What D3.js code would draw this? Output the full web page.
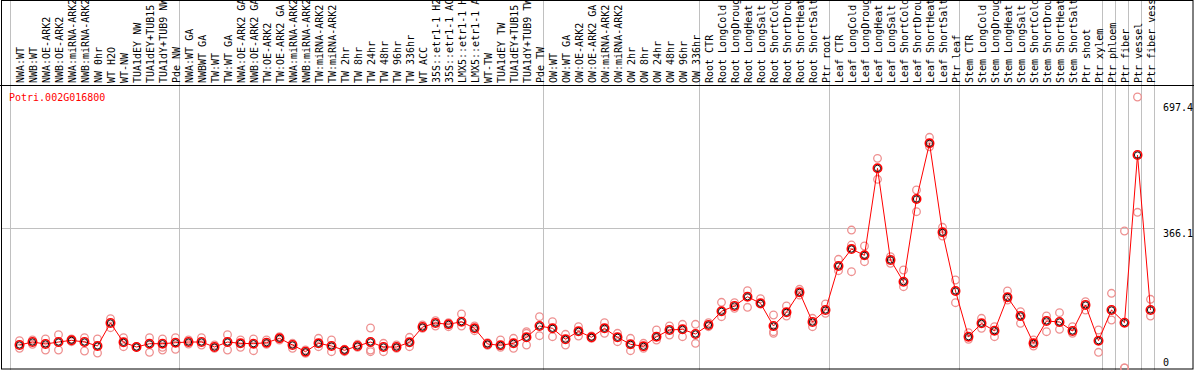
<!DOCTYPE html>
<html>
<head>
<meta charset="utf-8">
<script src="https://cdn.jsdelivr.net/npm/d3@7"></script>
<style>
  body { margin: 0; background: #fff; }
  text { font-family: "DejaVu Sans Mono", monospace; font-size: 10px; }
</style>
</head>
<body>
<div id="svganchor"></div>
<script>
let width = 1194;
let height = 370;
let headerHeight = 85;

// sample labels, one per column
let categories = [
  "NWA:WT","NWB:WT","NWA:OE-ARK2","NWB:OE-ARK2","NWA:miRNA-ARK2","NWB:miRNA-ARK2","NW 0hr","WT H2O","WT-NW",
  "TUA1dEY NW","TUA1dEY+TUB15 NW","TUA1dY+TUB9 NW","Pde NW",
  "NWA:WT GA","NWBWT GA","TW:WT","TW:WT GA","NWA:OE-ARK2 GA","NWB:OE-ARK2 GA","TW:OE-ARK2","TW:OE-ARK2 GA",
  "NWA:miRNA-ARK2 GA","NWB:miRNA-ARK2 GA","TW:miRNA-ARK2","TW:miRNA-ARK2 GA","TW 2hr","TW 8hr","TW 24hr","TW 48hr",
  "TW 96hr","TW 336hr","WT ACC","35S::etr1-1 H2O","35S::etr1-1 ACC","LMX5::etr1-1 H2O","LMX5::etr1-1 ACC","WT-TW",
  "TUA1dEY TW","TUA1dEY+TUB15 TW","TUA1dY+TUB9 TW","Pde TW",
  "OW:WT","OW:WT GA","OW:OE-ARK2","OW:OE-ARK2 GA","OW:miRNA-ARK2","OW:miRNA-ARK2 GA","OW 2hr","OW 8hr","OW 24hr",
  "OW 48hr","OW 96hr","OW 336hr",
  "Root CTR","Root LongCold","Root LongDrought","Root LongHeat","Root LongSalt","Root ShortCold","Root ShortDrought",
  "Root ShortHeat","Root ShortSalt","Ptr root",
  "Leaf CTR","Leaf LongCold","Leaf LongDrought","Leaf LongHeat","Leaf LongSalt","Leaf ShortCold","Leaf ShortDrought",
  "Leaf ShortHeat","Leaf ShortSalt","Ptr leaf",
  "Stem CTR","Stem LongCold","Stem LongDrought","Stem LongHeat","Stem LongSalt","Stem ShortCold","Stem ShortDrought",
  "Stem ShortHeat","Stem ShortSalt","Ptr shoot","Ptr xylem",
  "Ptr phloem","Ptr fiber","Ptr vessel","Ptr fiber vessel"
];

// index of the first column of every group (last entry = end)
let groupStarts = [0, 13, 41, 53, 63, 73, 84, 85, 86, 87, 88];

// mean expression per sample
let means = [
  60.3, 68.1, 62.9, 68.1, 72.6, 68.1, 57.7, 117.9, 67.3, 55.0, 63.7, 63.7, 66.3,
  68.1, 68.1, 55.0, 68.1, 64.7, 63.7, 66.3, 77.8, 60.3, 42.7, 64.7, 57.7, 46.4, 57.7, 68.1, 55.0,
  55.0, 67.3, 107.4, 117.9, 114.5, 121.3, 104.0, 62.9, 59.5, 64.7, 80.5, 110.1,
  104.0, 75.2, 96.2, 80.5, 104.0, 80.5, 62.1, 56.9, 82.0, 99.6, 101.4, 89.1,
  112.7, 148.6, 162.5, 186.8, 169.5, 110.1, 146.0, 198.4, 120.5, 152.0,
  267.3, 311.8, 295.3, 523.3, 283.0, 226.1, 442.9, 588.8, 355.6, 201.8,
  82.0, 117.1, 97.7, 185.3, 136.3, 64.7, 123.2, 120.5, 97.0, 165.1, 71.5,
  152.0, 118.7, 558.2, 152.0
];

// replicate values per sample
let reps = [
  [71.5, 51.6], [73.4, 62.1], [76.0, 47.2], [87.3, 47.2], [76.0, 68.9], [79.4, 44.5], [76.0, 39.3],
  [129.2, 105.6], [79.4, 55.8], [55.0, 55.0], [79.4, 41.1], [76.0, 54.2, 47.2], [79.4, 49.0],
  [73.4, 62.9], [79.4, 60.3], [60.3, 51.6], [87.3, 47.2], [73.4, 54.2], [76.0, 45.3], [73.4, 62.1],
  [82.0, 73.4], [64.7, 51.6], [47.2, 38.5], [77.8, 55.8], [73.4, 42.7], [49.0, 42.7], [62.1, 54.2],
  [104.8, 47.2, 42.7], [64.7, 42.7], [60.3, 51.6], [80.5, 55.8], [112.7, 104.0], [124.0, 110.1],
  [118.7, 108.2], [141.5, 110.1], [110.1, 97.7], [66.3, 59.5], [73.4, 54.2], [77.8, 51.6],
  [95.1, 90.9, 60.3], [134.4, 84.6],
  [121.3, 82.0], [88.3, 60.3], [108.2, 83.9], [83.9, 77.8], [118.7, 90.9], [90.9, 68.9], [77.8, 45.3],
  [64.7, 51.6], [99.6, 73.4], [110.1, 86.5], [114.5, 82.0], [114.5, 64.7],
  [118.7, 108.2], [172.2, 134.4], [171.1, 156.4], [202.6, 159.1], [181.6, 167.7], [138.9, 95.1, 90.9],
  [162.5, 136.3], [206.2, 191.3], [130.2, 108.2], [167.7, 143.3],
  [284.9, 255.0], [361.6, 322.3, 252.4], [319.7, 278.6], [549.5, 494.5], [291.7, 274.4], [256.8, 213.1],
  [466.5, 409.6], [604.6, 579.9], [368.7, 345.9], [230.6, 171.1],
  [92.5, 75.2], [130.2, 104.0], [108.2, 82.0], [201.8, 178.2], [147.5, 117.1], [73.4, 57.7],
  [136.3, 95.1], [144.9, 101.4], [108.2, 90.9], [173.7, 152.0], [99.6, 41.1],
  [195.8, 125.8], [359.0, 0, 0], [710.2, 408.0], [180.0, 136.3]
];

let yTicks = [0, 366.1, 697.4];
let geneName = "Potri.002G016800";

let svg = d3.select("#svganchor")
    .append("svg")
    .attr("width", width)
    .attr("height", height);

// band scale for columns, points sit a bit right of the band start
let xScale = d3.scaleBand()
    .domain(d3.range(categories.length))
    .range([10.5, 10.5 + 13 * categories.length])
    .paddingInner(0);
let pointOffset = 9;
let px = i => xScale(i) + pointOffset;

let yScale = d3.scaleLinear()
    .domain([0, 697.4])
    .range([368, 101.9]);

// horizontal grid at the middle tick
svg.append("line")
    .attr("x1", 2).attr("x2", xScale.range()[1])
    .attr("y1", Math.round(yScale(yTicks[1])) + 0.5)
    .attr("y2", Math.round(yScale(yTicks[1])) + 0.5)
    .attr("stroke", "#c0c0c0");

// group separators
svg.selectAll(".sep")
    .data(groupStarts)
    .enter().append("line")
    .attr("class", "sep")
    .attr("x1", d => d < categories.length ? xScale(d) : xScale.range()[1])
    .attr("x2", d => d < categories.length ? xScale(d) : xScale.range()[1])
    .attr("y1", 0).attr("y2", height)
    .attr("stroke", "#c0c0c0");

// header labels, clipped to the header box
svg.append("clipPath").attr("id", "hclip")
    .append("rect").attr("x", 0).attr("y", 0).attr("width", width).attr("height", headerHeight);

svg.append("g").attr("clip-path", "url(#hclip)")
    .selectAll("text")
    .data(categories)
    .enter().append("text")
    .attr("transform", (d, i) => "translate(" + (px(i) + 0.5) + "," + 83 + ") rotate(-90)")
    .attr("dy", "0.36em")
    .attr("fill", "#000")
    .text(d => d);

// header bottom and frame
svg.append("line")
    .attr("x1", 0).attr("x2", width)
    .attr("y1", headerHeight + 0.5).attr("y2", headerHeight + 0.5)
    .attr("stroke", "#000");
svg.append("rect")
    .attr("x", 1.5).attr("y", 0.5)
    .attr("width", width - 2.5).attr("height", height - 1.5)
    .attr("fill", "none")
    .attr("stroke", "#000");

// gene name
svg.append("text")
    .attr("x", 9).attr("y", 101)
    .attr("fill", "#ff0000")
    .text(geneName);

// right axis labels
svg.selectAll(".ylab")
    .data(yTicks)
    .enter().append("text")
    .attr("class", "ylab")
    .attr("x", 1163)
    .attr("y", d => Math.min(yScale(d) + 9, 365.5))
    .attr("fill", "#000")
    .text(d => d);

// replicate circles
let repPoints = [];
reps.forEach((r, i) => r.forEach(v => repPoints.push({i: i, v: v})));

svg.selectAll(".rep")
    .data(repPoints)
    .enter().append("circle")
    .attr("class", "rep")
    .attr("cx", d => px(d.i))
    .attr("cy", d => yScale(d.v))
    .attr("r", 3.8)
    .attr("fill", "none")
    .attr("stroke", "#ee9090")
    .attr("stroke-width", 1.3);

// mean line
let line = d3.line()
    .x((d, i) => px(i))
    .y(d => yScale(d));

svg.append("path")
    .datum(means)
    .attr("d", line)
    .attr("fill", "none")
    .attr("stroke", "#ff0000")
    .attr("stroke-width", 1);

// mean markers
let meanG = svg.selectAll(".mean")
    .data(means)
    .enter().append("g")
    .attr("class", "mean")
    .attr("transform", (d, i) => "translate(" + px(i) + "," + yScale(d) + ")");

meanG.append("circle")
    .attr("r", 4.2)
    .attr("fill", "none")
    .attr("stroke", "#ff0000")
    .attr("stroke-width", 1.6);
meanG.append("circle")
    .attr("r", 3.1)
    .attr("fill", "none")
    .attr("stroke", "#000")
    .attr("stroke-width", 0.9);
</script>
</body>
</html>
